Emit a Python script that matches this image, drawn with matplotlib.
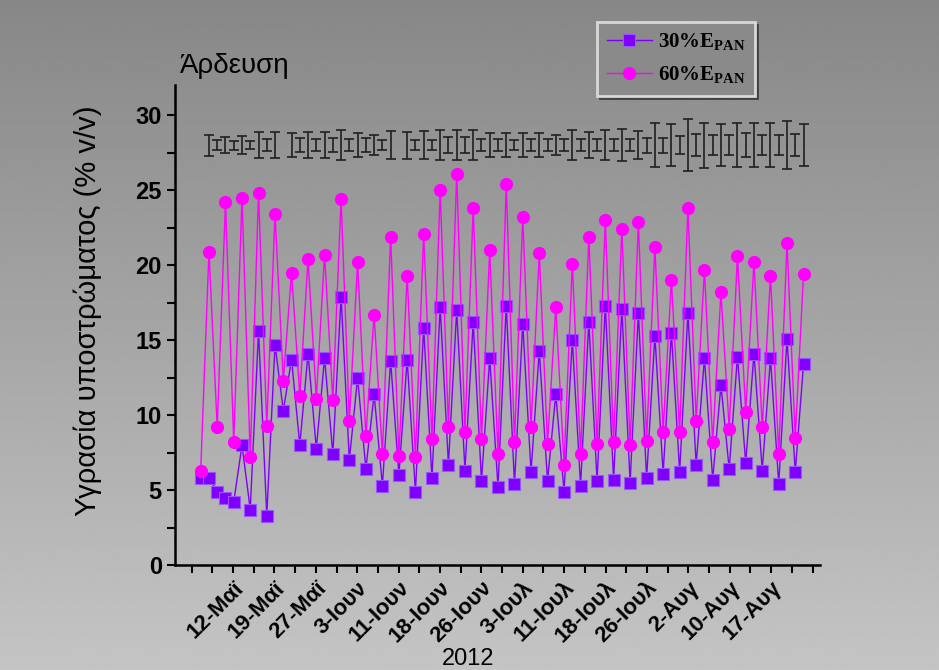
import numpy as np
import matplotlib
matplotlib.use('Agg')
import matplotlib.pyplot as plt

plt.rcParams['font.family'] = ['Liberation Sans', 'DejaVu Sans']
plt.rcParams['mathtext.fontset'] = 'custom'
plt.rcParams['mathtext.rm'] = 'Liberation Serif'
plt.rcParams['mathtext.bf'] = 'Liberation Serif:bold'

# Substrate moisture (% v/v), consecutive measurements
moist_30 = [5.8, 5.8, 4.9, 4.5, 4.2, 8.0, 3.7, 15.6, 3.3, 14.7,
            10.3, 13.7, 8.0, 14.1, 7.75, 13.8, 7.4, 17.9, 7.0, 12.5,
            6.4, 11.4, 5.3, 13.6, 6.0, 13.7, 4.9, 15.8, 5.8, 17.2,
            6.7, 17.0, 6.3, 16.2, 5.6, 13.8, 5.2, 17.3, 5.4, 16.1,
            6.2, 14.3, 5.6, 11.4, 4.9, 15.0, 5.3, 16.2, 5.6, 17.3,
            5.7, 17.1, 5.5, 16.8, 5.8, 15.3, 6.1, 15.5, 6.2, 16.8,
            6.7, 13.8, 5.7, 12.0, 6.4, 13.9, 6.8, 14.1, 6.3, 13.8,
            5.4, 15.1, 6.2, 13.4]
moist_60 = [6.3, 20.9, 9.2, 24.2, 8.2, 24.5, 7.2, 24.8, 9.3, 23.4,
            12.3, 19.5, 11.3, 20.4, 11.1, 20.7, 11.0, 24.4, 9.6, 20.2,
            8.6, 16.7, 7.4, 21.9, 7.3, 19.3, 7.2, 22.1, 8.4, 25.0,
            9.2, 26.1, 8.9, 23.8, 8.4, 21.0, 7.4, 25.4, 8.2, 23.2,
            9.2, 20.8, 8.1, 17.2, 6.7, 20.1, 7.4, 21.9, 8.1, 23.0,
            8.2, 22.4, 8.0, 22.9, 8.3, 21.2, 8.9, 19.0, 8.9, 23.8,
            9.6, 19.7, 8.2, 18.2, 9.1, 20.6, 10.2, 20.2, 9.2, 19.3,
            7.4, 21.5, 8.5, 19.4]
# error bar half-lengths drawn on the band at y=28 (nan = no bar)
err = [np.nan, 0.70, 0.33, 0.55, 0.30, 0.58, 0.26, 0.86, 0.39, 0.86,
       np.nan, 0.78, 0.44, 0.89, 0.40, 0.89, 0.44, 1.00, 0.39, 0.78,
       0.44, 0.67, 0.33, 0.92, np.nan, 0.90, 0.33, 0.92, 0.33, 0.98,
       0.55, 1.00, 0.52, 1.00, 0.42, 0.78, 0.42, 0.80, 0.33, 0.80,
       0.42, 0.78, 0.42, 0.67, 0.37, 1.00, 0.39, 0.89, 0.42, 1.03,
       0.42, 1.08, 0.42, 0.94, 0.50, 1.47, 0.50, 1.37, 0.61, 1.72,
       0.72, 1.50, 0.67, 1.37, 0.67, 1.44, 0.78, 1.47, 0.67, 1.44,
       0.67, 1.59, 0.72, 1.39]
ERR_LEVEL = 28.0

date_labels = ['12-Μαϊ', '19-Μαϊ', '27-Μαϊ', '3-Ιουν', '11-Ιουν', '18-Ιουν',
               '26-Ιουν', '3-Ιουλ', '11-Ιουλ', '18-Ιουλ', '26-Ιουλ', '2-Αυγ',
               '10-Αυγ', '17-Αυγ']

x = np.arange(len(moist_30))
err = np.array(err)
ok = ~np.isnan(err)

fig = plt.figure(figsize=(9.39, 6.70), dpi=100)
fig.patch.set_facecolor('white')

# grey gradient background
bg = fig.add_axes([0, 0, 1, 1], zorder=-5)
grad = np.linspace(0.53, 0.77, 256).reshape(-1, 1)
bg.imshow(grad, aspect='auto', cmap='gray', vmin=0, vmax=1,
          extent=[0, 1, 0, 1], origin='upper')
bg.set_xlim(0, 1)
bg.set_ylim(0, 1)
bg.axis('off')

ax = fig.add_axes([0.1864, 0.1567, 0.6869, 0.7164])
ax.patch.set_alpha(0)

ax.errorbar(x[ok], np.full(ok.sum(), ERR_LEVEL), yerr=err[ok], fmt='none',
            ecolor='#202020', elinewidth=1.2, capsize=3.5, capthick=1.2, zorder=2)
ax.plot(x, moist_30, color='#8000ff', lw=1, marker='s', ms=8.5,
        mfc='#8000ff', mec='#9b55ff', mew=0.8,
        label=r'30%E$_{\mathbf{PAN}}$', zorder=3)
ax.plot(x, moist_60, color='#ff00ff', lw=1, marker='o', ms=9.5,
        mfc='#ff00ff', mec='#ff00ff', mew=0,
        label=r'60%E$_{\mathbf{PAN}}$', zorder=4)

ax.set_ylim(0, 32)
ax.set_xlim(-3.11, 75.0)
ax.set_yticks(np.arange(0, 31, 5))
ax.set_yticks(np.arange(2.5, 31, 5), minor=True)

tick_pos = -1.09 + 2.506 * np.arange(31)
tick_lab = [''] * 31
for i, lab in enumerate(date_labels):
    tick_lab[2 + 2 * i] = lab
ax.set_xticks(tick_pos)
ax.set_xticklabels(tick_lab, rotation=45, ha='right', va='top',
                   rotation_mode='anchor', fontsize=16, fontweight='bold')
for t in ax.get_yticklabels():
    t.set_fontsize(17)
    t.set_fontweight('bold')

for s in ['top', 'right']:
    ax.spines[s].set_visible(False)
for s in ['left', 'bottom']:
    ax.spines[s].set_linewidth(1.8)
ax.tick_params(which='both', direction='out', length=6, width=1.5, color='black')
ax.tick_params(axis='x', pad=3)

ax.set_ylabel('Υγρασία υποστρώματος (% v/v)', fontsize=21)
ax.yaxis.set_label_coords(-0.113, 0.53)
fig.text(0.4985, 0.0164, '2012', fontsize=17, ha='center', va='center')
fig.text(0.192, 0.902, 'Άρδευση', fontsize=20, ha='left', va='center')

leg = ax.legend(loc='upper left', bbox_to_anchor=(0.636, 0.967),
                bbox_transform=fig.transFigure, frameon=True, fancybox=False,
                shadow={'color': '#404040', 'alpha': 1}, facecolor='#8a8a8a',
                edgecolor='#d8d8d8', framealpha=1, handlelength=2.2,
                prop={'family': 'Liberation Serif', 'size': 15, 'weight': 'bold'},
                borderpad=0.45, labelspacing=0.55, handletextpad=0.25,
                borderaxespad=0)
leg.get_frame().set_linewidth(2)

fig.savefig('out.png', dpi=100)
